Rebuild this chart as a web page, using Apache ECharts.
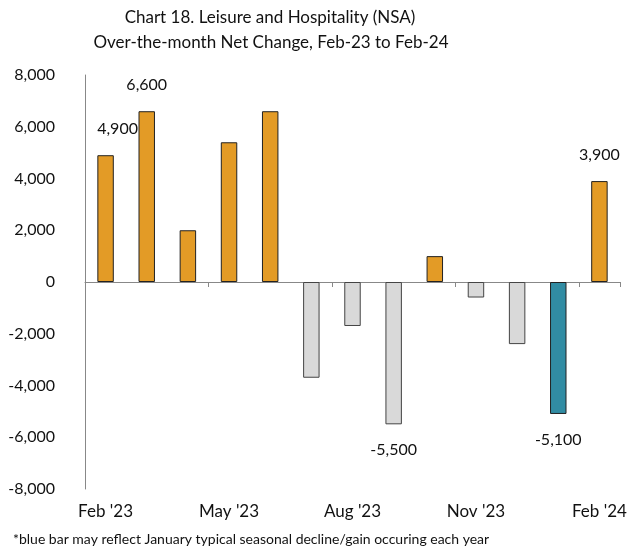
<!DOCTYPE html>
<html>
<head>
<meta charset="utf-8">
<script src="https://cdn.jsdelivr.net/npm/echarts@6/dist/echarts.min.js"></script>
<style>
  html, body { margin: 0; padding: 0; background: #fff; }
  #chart { width: 641px; height: 551px; }
</style>
</head>
<body>
<div id="chart"></div>
<script>
// Monthly net change, Leisure and Hospitality (not seasonally adjusted)
const months = ["Feb '23", "Mar '23", "Apr '23", "May '23", "Jun '23", "Jul '23", "Aug '23",
                "Sep '23", "Oct '23", "Nov '23", "Dec '23", "Jan '24", "Feb '24"];
const netChange = [4900, 6600, 2000, 5400, 6600, -3700, -1700, -5500, 1000, -600, -2400, -5100, 3900];
// Months whose value is printed next to the bar
const labelled = [0, 1, 7, 11, 12];
// The January bar is highlighted
const highlightIndex = 11;
const yTicks = { min: -8000, max: 8000, step: 2000 };

const FONT = 'Lato';
const ORANGE = '#E39B26';
const GREY = '#D9D9D9';
const BLUE = '#318CA3';

const barData = netChange.map((v, i) => {
  const color = i === highlightIndex ? BLUE : (v >= 0 ? ORANGE : GREY);
  const item = {
    value: v,
    itemStyle: { color: color, borderColor: v >= 0 || i === highlightIndex ? '#222' : '#444', borderWidth: 1 }
  };
  if (labelled.includes(i)) {
    item.label = {
      show: true,
      position: v >= 0 ? 'top' : 'bottom',
      distance: 18,
      offset: i === 0 ? [12, 0] : [0, 0]
    };
  }
  return item;
});

const chart = echarts.init(document.getElementById('chart'));
chart.setOption({
  animation: false,
  textStyle: { fontFamily: FONT },
  grid: { left: 85, right: 21, top: 75, bottom: 62, containLabel: false },
  graphic: [
    { type: 'text', x: 270, y: 18, style: { text: 'Chart 18. Leisure and Hospitality (NSA)', font: '17px ' + FONT, fill: '#111', textAlign: 'center', textVerticalAlign: 'middle' } },
    { type: 'text', x: 271, y: 43, style: { text: 'Over-the-month Net Change, Feb-23 to Feb-24', font: '17px ' + FONT, fill: '#111', textAlign: 'center', textVerticalAlign: 'middle' } },
    { type: 'text', x: 13, y: 539, style: { text: '*blue bar may reflect January typical seasonal decline/gain occuring each year', font: '14px ' + FONT, fill: '#111', textAlign: 'left', textVerticalAlign: 'middle' } }
  ],
  xAxis: [{
    // baseline through zero with a tick every quarter
    type: 'category',
    data: months,
    boundaryGap: true,
    axisLine: { onZero: true, lineStyle: { color: '#888', width: 1 } },
    axisTick: { show: true, interval: 2, length: 5, inside: false, lineStyle: { color: '#888' } },
    axisLabel: { show: false }
  }, {
    // quarter labels along the bottom of the plot
    type: 'category',
    data: months,
    boundaryGap: true,
    position: 'bottom',
    axisLine: { show: false, onZero: false },
    axisTick: { show: false },
    axisLabel: {
      interval: 2,
      color: '#111',
      fontSize: 17,
      fontFamily: FONT,
      margin: 14
    }
  }],
  yAxis: {
    type: 'value',
    min: yTicks.min,
    max: yTicks.max,
    interval: yTicks.step,
    axisLine: { show: true, lineStyle: { color: '#888', width: 1 } },
    axisTick: { show: false },
    splitLine: { show: false },
    axisLabel: {
      color: '#111',
      fontSize: 16,
      fontFamily: FONT,
      margin: 30,
      formatter: v => v.toLocaleString('en-US')
    }
  },
  series: [{
    type: 'bar',
    xAxisIndex: 0,
    data: barData,
    barWidth: '40%',
    label: {
      color: '#111',
      fontSize: 16,
      fontFamily: FONT,
      formatter: p => p.value.toLocaleString('en-US')
    }
  }]
});
</script>
</body>
</html>
